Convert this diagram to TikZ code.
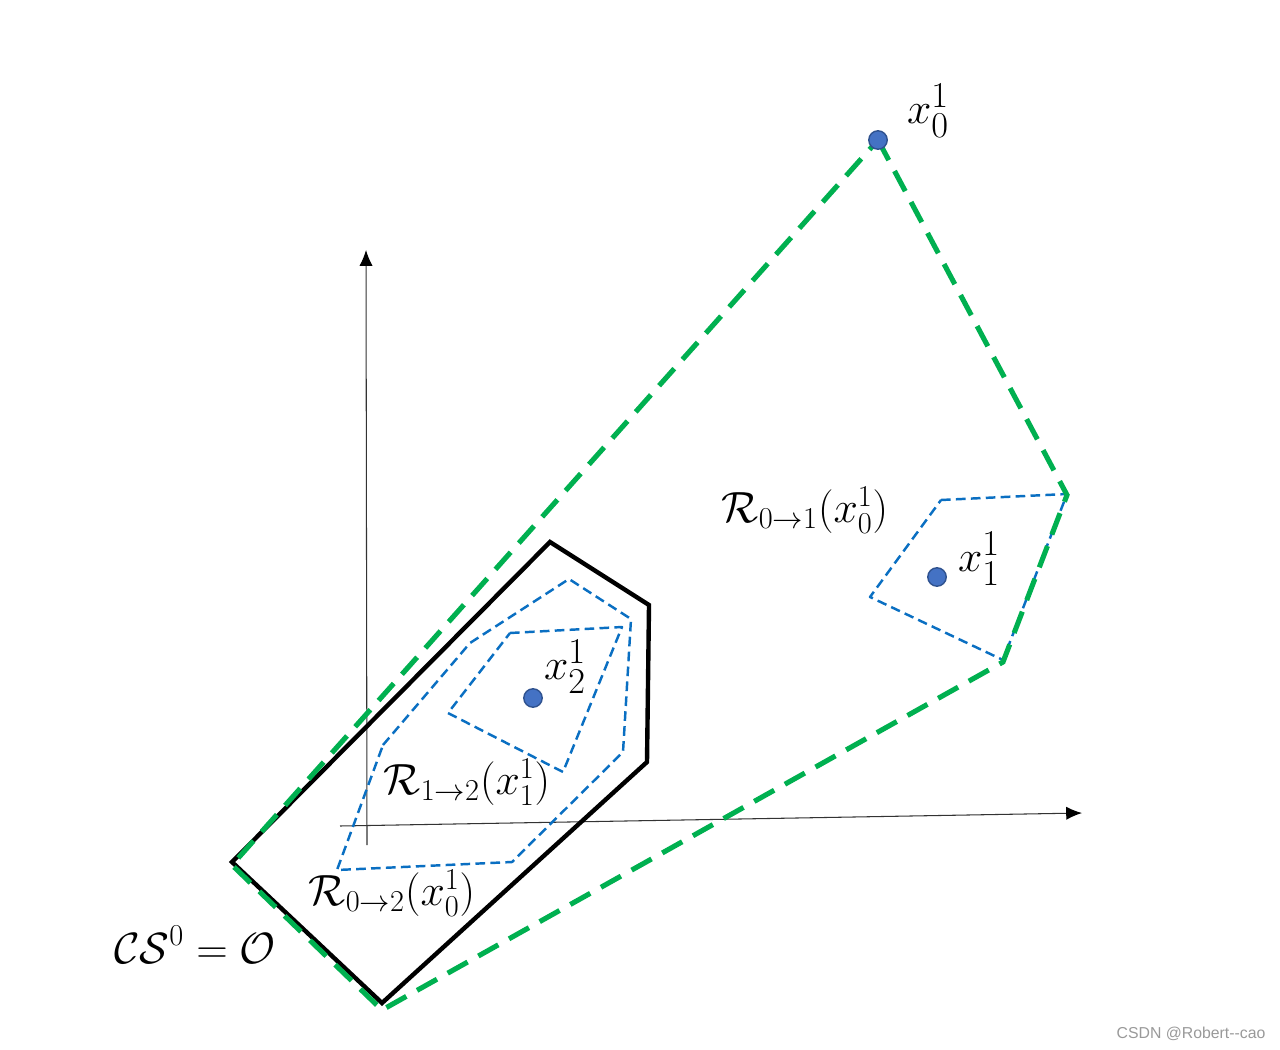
\documentclass[tikz,border=0pt]{standalone}
\usepackage{amsmath}
\usepackage{fontspec}
\newfontfamily\wmfont{Liberation Sans}
\usetikzlibrary{arrows.meta}
\definecolor{grn}{HTML}{00B050}
\definecolor{blu}{HTML}{0A6FC2}
\definecolor{dotfill}{HTML}{4472C4}
\definecolor{dotdraw}{HTML}{2F528F}
\newcommand{\bigscr}[1]{\mbox{\fontsize{21}{24}\selectfont$#1$}}
\tikzset{
  greenpoly/.style={grn, line width=2.9pt, dash pattern=on 13pt off 7pt},
  bluepoly/.style={blu, line width=1.4pt, dash pattern=on 5.5pt off 3pt, line join=round},
  blackpoly/.style={black, line width=2.5pt, line join=miter},
  axis/.style={gray!40!black, line width=0.6pt, -{Latex[length=9pt,width=7.5pt,fill=black,color=black]}},
  dot/.style={circle, fill=dotfill, draw=dotdraw, line width=0.8pt, inner sep=0pt, minimum size=10.5pt},
  lbl/.style={inner sep=0pt, font=\fontsize{24}{28}\selectfont},
  ptlbl/.style={inner sep=0pt, font=\fontsize{26}{30}\selectfont},
}
\begin{document}
\begin{tikzpicture}[x=0.02cm, y=-0.02cm]
\useasboundingbox (0,0) rectangle (1280,1050);
% axes
\coordinate (ya0) at (367,845);
\coordinate (ya1) at (366,250);
\coordinate (xa0) at (340,826);
\coordinate (xa1) at (1082,813);
\draw[axis] (ya0) -- (ya1);
\draw[axis] (xa0) -- (xa1);
% black polygon CS^0
\coordinate (b1) at (232,862);
\coordinate (b2) at (550,542);
\coordinate (b3) at (649,605);
\coordinate (b4) at (647,762);
\coordinate (b5) at (382,1003);
\draw[blackpoly] (b1) -- (b2) -- (b3) -- (b4) -- (b5) -- cycle;
% blue polygons
\coordinate (p1) at (941,500);
\coordinate (p2) at (1067,494);
\coordinate (p3) at (1003,660);
\coordinate (p4) at (870,597);
\draw[bluepoly] (p1) -- (p2) -- (p3) -- (p4) -- cycle;
\coordinate (q1) at (383,745);
\coordinate (q2) at (470,643);
\coordinate (q3) at (569,579);
\coordinate (q4) at (631,619);
\coordinate (q5) at (623,752);
\coordinate (q6) at (512,862);
\coordinate (q7) at (337,870);
\draw[bluepoly] (q1) -- (q2) -- (q3) -- (q4) -- (q5) -- (q6) -- (q7) -- cycle;
\coordinate (r1) at (510,633);
\coordinate (r2) at (622,627);
\coordinate (r3) at (563,772);
\coordinate (r4) at (448,713);
\draw[bluepoly] (r1) -- (r2) -- (r3) -- (r4) -- cycle;
% green polygon
\coordinate (g1) at (878,140);
\coordinate (g2) at (1067,495);
\coordinate (g3) at (1003,662);
\coordinate (g4) at (382,1010);
\coordinate (g5) at (232,865);
\draw[greenpoly] (g1) -- (g2) -- (g3) -- (g4) -- (g5) -- cycle;
% dots
\node[dot] (x0) at (g1) {};
\node[dot] (x1) at (937,577) {};
\node[dot] (x2) at (533,698) {};
% labels
\node[ptlbl] (lx0) at (928,111) {$x_{\bigscr{0}}^{\bigscr{1}}$};
\node[ptlbl] (lx1) at (979,559) {$x_{\bigscr{1}}^{\bigscr{1}}$};
\node[ptlbl] (lx2) at (565,667) {$x_{\bigscr{2}}^{\bigscr{1}}$};
\node[lbl] (lr01) at (805,510) {$\mathcal{R}_{0\to1}(x_0^1)$};
\node[lbl] (lr12) at (467,782) {$\mathcal{R}_{1\to2}(x_1^1)$};
\node[lbl] (lr02) at (392,893) {$\mathcal{R}_{0\to2}(x_0^1)$};
\node[lbl] (lcs) at (195,945) {$\mathcal{CS}^0=\mathcal{O}$};
\node[inner sep=0pt, text=gray!80, font=\wmfont\fontsize{9}{11}\selectfont] (wm) at (1191,1034) {CSDN @Robert--cao};
\end{tikzpicture}
\end{document}
